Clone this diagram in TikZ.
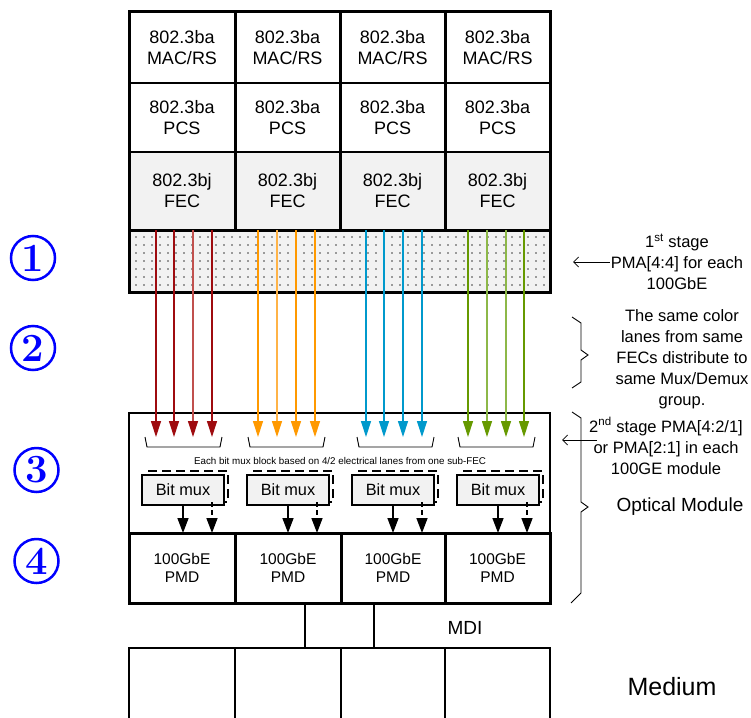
\documentclass[tikz,border=0pt]{standalone}
\usepackage{fontspec}
\newfontfamily\arial{Liberation Sans}
\usetikzlibrary{arrows.meta,patterns.meta}
\definecolor{fecgray}{HTML}{F2F2F2}
\definecolor{lred}{HTML}{9E0B0F}
\definecolor{lredb}{HTML}{C0504D}
\definecolor{lorange}{HTML}{FF9900}
\definecolor{lorangeb}{HTML}{FFB347}
\definecolor{lblue}{HTML}{0099CC}
\definecolor{lgreen}{HTML}{669900}
\definecolor{lgreenb}{HTML}{8DB848}
\definecolor{numblue}{HTML}{0000FF}
\tikzset{
  cell/.style={draw, line width=2pt, inner sep=0pt, outer sep=0pt, align=center,
    font=\arial\fontsize{18}{21}\selectfont},
  fec/.style={cell, fill=fecgray},
  pmdbox/.style={draw, line width=3pt, inner sep=0pt, outer sep=0pt, align=center,
    font=\arial\fontsize{15.5}{18}\selectfont},
  medbox/.style={draw, line width=1.5pt, inner sep=0pt, outer sep=0pt},
  muxbox/.style={draw, line width=2pt, fill=fecgray, inner sep=0pt, outer sep=0pt,
    font=\arial\fontsize{16.3}{18}\selectfont},
  dashbox/.style={draw, line width=2pt, dash pattern=on 9pt off 5pt, inner sep=0pt, outer sep=0pt},
  numc/.style={circle, draw=numblue, text=numblue, line width=2.5pt, minimum size=44pt,
    inner sep=0pt, font=\rmfamily\bfseries\fontsize{40}{40}\selectfont},
  ann/.style={align=center, inner sep=1pt, font=\arial\fontsize{16.5}{21}\selectfont},
  lane/.style={line width=1.2pt},
  blk/.style={line width=1.5pt, -{Triangle[width=11pt,length=15pt]}},
  pointer/.style={line width=0.8pt, -{Straight Barb[length=5pt,width=10pt]}},
  bracepath/.style={line width=0.9pt, line join=miter},
}
\begin{document}
\begin{tikzpicture}[x=1pt,y=-1pt]
\useasboundingbox (0,0) rectangle (751,717);

% ---------- upper stack ----------
\foreach \i/\cx/\w in {1/182/106,2/287.5/105,3/392.5/105,4/497.5/105}{
  \node[cell, minimum width=\w, minimum height=71] (mac\i) at (\cx,47.5) {802.3ba\\MAC/RS};
  \node[cell, minimum width=\w, minimum height=69] (pcs\i) at (\cx,117.5) {802.3ba\\PCS};
  \node[fec,  minimum width=\w, minimum height=78] (fec\i) at (\cx,191) {802.3bj\\FEC};
}
% first stage PMA region (dotted)
\node[fill=fecgray, minimum width=421, minimum height=62, inner sep=0pt, outer sep=0pt] (pma) at (339.5,261) {};
\fill[pattern={Dots[distance=8pt, angle=0, radius=0.85pt]}, pattern color=black!75]
  (pma.north west) rectangle (pma.south east);
% heavy frame lines
\draw[line width=3pt] (mac1.north west) rectangle (pma.south east);
\draw[line width=3pt] (fec1.south west) -- (fec4.south east);
\foreach \i in {1,2,3}{
  \draw[line width=3pt] (mac\i.north east) -- (fec\i.south east);
}

% ---------- optical module ----------
\node[draw, line width=2pt, minimum width=421, minimum height=190, inner sep=0pt, outer sep=0pt] (om) at (339.5,508) {};

% coloured lanes
\coordinate (laneend) at (0,437);
\foreach \x/\c/\t in {156/lred/lred,174/lred/lred,193/lredb/lred,212/lred/lred,
                      258/lorange/lorange,277/lorangeb/lorange,296/lorange/lorange,315/lorange/lorange,
                      366/lblue/lblue,384/lblue/lblue,403/lblue/lblue,422/lblue/lblue,
                      468/lgreen/lgreen,487/lgreenb/lgreen,506/lgreenb/lgreen,524/lgreen/lgreen}{
  \coordinate (ls) at (\x,0);
  \draw[lane, \c, -{Triangle[width=10pt,length=16pt,color=\t]}] (ls |- pma.north) -- (ls |- laneend);
}
% brackets under arrow groups
\foreach \a in {145,248,357,458}{
  \draw[bracepath] (\a,437) -- ({\a+2},447) -- ({\a+75},447) -- ({\a+77},437);
}
\node[inner sep=0pt, font=\arial\fontsize{9.8}{11}\selectfont] (note) at (340,461)
  {Each bit mux block based on 4/2 electrical lanes from one sub-FEC};

% PMD row
\node[pmdbox, minimum width=106, minimum height=70] (pmd1) at (182,568) {100GbE\\PMD};
\node[pmdbox, minimum width=106, minimum height=70] (pmd2) at (288,568) {100GbE\\PMD};
\node[pmdbox, minimum width=104, minimum height=70] (pmd3) at (393,568) {100GbE\\PMD};
\node[pmdbox, minimum width=105, minimum height=70] (pmd4) at (497.5,568) {100GbE\\PMD};

% bit mux blocks
\foreach \i/\x in {1/183,2/288,3/393,4/498}{
  \node[dashbox, minimum width=80, minimum height=31] (dm\i) at ({\x+5},486.5) {};
  \node[muxbox, minimum width=82, minimum height=30] (mux\i) at (\x,490) {Bit mux};
  \draw[blk] (mux\i.south) -- (mux\i.south |- pmd\i.north);
  \coordinate (da\i) at ({\x+29},502);
  \draw[blk, dash pattern=on 5pt off 3pt] (da\i) -- (da\i |- pmd\i.north);
}

% medium
\node[medbox, minimum width=106, minimum height=80] (med1) at (182,688) {};
\node[medbox, minimum width=106, minimum height=80] (med2) at (288,688) {};
\node[medbox, minimum width=104, minimum height=80] (med3) at (393,688) {};
\node[medbox, minimum width=105, minimum height=80] (med4) at (497.5,688) {};
\coordinate (mdiA) at (305,0);
\coordinate (mdiB) at (374,0);
\draw[line width=1.5pt] (mdiA |- pmd2.south) -- (mdiA |- med2.north);
\draw[line width=1.5pt] (mdiB |- pmd3.south) -- (mdiB |- med3.north);
\node[inner sep=0pt, font=\arial\fontsize{19}{22}\selectfont] (mdi) at (465,628) {MDI};
\node[inner sep=0pt, font=\arial\fontsize{25}{28}\selectfont] (medium) at (672,687) {Medium};

% circled step numbers
\node[numc] (n1) at (33,258) {1};
\node[numc] (n2) at (33,348) {2};
\node[numc] (n3) at (36.5,470) {3};
\node[numc] (n4) at (36.5,561) {4};

% right-hand annotations
\node[ann] (a1) at (677,262) {1\textsuperscript{st} stage\\PMA[4:4] for each\\100GbE};
\coordinate (a1t) at (573,262);
\draw[pointer] (a1.west) -- (a1t);

\node[ann] (a2) at (682,359) {The same color\\lanes from same\\FECs distribute to\\same Mux/Demux\\group.};
\draw[bracepath] (572,317) -- (581,323) -- (581,350) -- (588,355) -- (581,360) -- (581,382) -- (572,388);

\node[ann] (a3) at (666,446) {2\textsuperscript{nd} stage PMA[4:2/1]\\or PMA[2:1] in each\\100GE module};
\coordinate (a3s) at (597,440);
\coordinate (a3t) at (562,440);
\draw[pointer] (a3s) -- (a3t);
\draw[bracepath] (572,412) -- (581,418) -- (581,502) -- (588,507) -- (581,512) -- (581,593) -- (571,603);
\node[inner sep=0pt, font=\arial\fontsize{19}{22}\selectfont] (optm) at (680,507) {Optical Module};
\end{tikzpicture}
\end{document}
